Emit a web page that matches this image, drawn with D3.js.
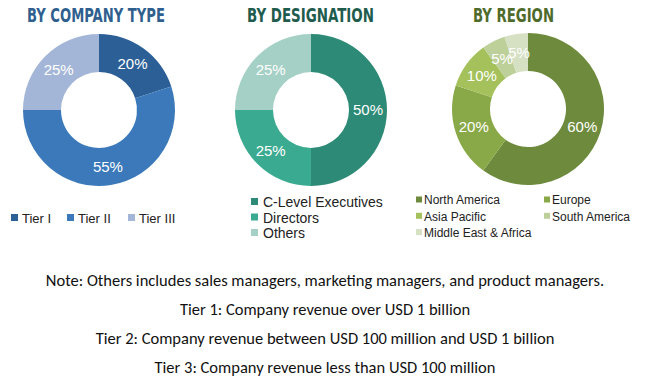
<!DOCTYPE html>
<html lang="en">
<head>
<meta charset="UTF-8">
<title>Breakdown of primaries</title>
<style>
  body { margin: 0; background: #fff; }
</style>
</head>
<body>
<div id="chart"></div>
<script src="https://cdn.jsdelivr.net/npm/d3@7"></script>
<script>
    // Data
    var companyTypes = ["Tier I", "Tier II", "Tier III"];
    var companyShares = [20, 55, 25];
    var designations = ["C-Level Executives", "Directors", "Others"];
    var designationShares = [50, 25, 25];
    var regions = ["North America", "Europe", "Asia Pacific", "South America", "Middle East & Africa"];
    var regionShares = [60, 20, 10, 5, 5];
    var notes = [
        "Note: Others includes sales managers, marketing managers, and product managers.",
        "Tier 1: Company revenue over USD 1 billion",
        "Tier 2: Company revenue between USD 100 million and USD 1 billion",
        "Tier 3: Company revenue less than USD 100 million"
    ];

    var width = 650, height = 384;

    var svg = d3.select("#chart").append("svg")
        .attr("width", width)
        .attr("height", height);

    var titleFont = "'DejaVu Sans Condensed', 'Liberation Sans Narrow', sans-serif";
    var bodyFont = "'Liberation Sans', Arial, sans-serif";

    // one panel per donut
    var panels = [
        {title: "BY COMPANY TYPE", titleColor: "#2f5f8f", titleX: 27, titleW: 138, cx: 99, cy: 110,
         names: companyTypes, values: companyShares,
         colors: ["#2c5f96", "#3b79ba", "#a4b6d7"]},
        {title: "BY DESIGNATION", titleColor: "#1f5c4d", titleX: 247, titleW: 127, cx: 311, cy: 110,
         names: designations, values: designationShares,
         colors: ["#2d8a76", "#3aaa90", "#a5d0c5"]},
        {title: "BY REGION", titleColor: "#4f6b2b", titleX: 473, titleW: 81, cx: 528, cy: 109,
         names: regions, values: regionShares,
         colors: ["#6e8b3d", "#89a948", "#a4c15c", "#bdd09a", "#d6e0c3"]}
    ];

    var outerR = 76, innerR = 38;
    var pie = d3.pie().sort(null).value(d => d);
    var arc = d3.arc().innerRadius(innerR).outerRadius(outerR);
    var labelArc = d3.arc().innerRadius((innerR + outerR) / 2).outerRadius((innerR + outerR) / 2);

    panels.forEach(function(p) {
        var g = svg.append("g").attr("transform", "translate(" + p.cx + "," + p.cy + ")");
        var color = d3.scaleOrdinal().domain(p.names).range(p.colors);
        var arcs = pie(p.values);

        g.selectAll("path.slice")
            .data(arcs)
            .enter().append("path")
            .attr("class", "slice")
            .attr("d", arc)
            .attr("fill", (d, i) => color(p.names[i]));

        // percentage labels at slice centroids (the two 5% labels overlap, as in the original)
        g.selectAll("text.lbl")
            .data(arcs)
            .enter().append("text")
            .attr("class", "lbl")
            .attr("transform", d => "translate(" + labelArc.centroid(d) + ")")
            .attr("text-anchor", "middle")
            .attr("dy", "0.36em")
            .style("font-family", bodyFont)
            .style("font-size", "15px")
            .style("fill", "#fff")
            .text(d => d.data + "%");

        svg.append("text")
            .attr("x", p.titleX)
            .attr("y", 22)
            .attr("textLength", p.titleW)
            .attr("lengthAdjust", "spacingAndGlyphs")
            .style("font-family", titleFont)
            .style("font-weight", "bold")
            .style("font-size", "19px")
            .style("fill", p.titleColor)
            .text(p.title);
    });

    // Legend: company type (single row)
    var leg1 = svg.append("g").selectAll("g")
        .data(companyTypes)
        .enter().append("g")
        .attr("transform", (d, i) => "translate(" + [11, 67, 128][i] + ",218)");
    leg1.append("rect").attr("y", -4).attr("width", 7).attr("height", 7)
        .attr("fill", (d, i) => panels[0].colors[i]);
    leg1.append("text").attr("x", 11).attr("dy", "0.36em")
        .style("font-family", bodyFont).style("font-size", "13px").style("fill", "#222")
        .text(d => d);

    // Legend: designation (column)
    var leg2 = svg.append("g").selectAll("g")
        .data(designations)
        .enter().append("g")
        .attr("transform", (d, i) => "translate(251," + (202 + i * 15.5) + ")");
    leg2.append("rect").attr("y", -4).attr("width", 7).attr("height", 7)
        .attr("fill", (d, i) => panels[1].colors[i]);
    leg2.append("text").attr("x", 12).attr("dy", "0.36em")
        .style("font-family", bodyFont).style("font-size", "14px").style("fill", "#222")
        .text(d => d);

    // Legend: region (two columns)
    var leg3 = svg.append("g").selectAll("g")
        .data(regions)
        .enter().append("g")
        .attr("transform", (d, i) => "translate(" + (i % 2 ? 544 : 416) + "," + (200 + Math.floor(i / 2) * 16.3) + ")");
    leg3.append("rect").attr("y", -3.5).attr("width", 6).attr("height", 6)
        .attr("fill", (d, i) => panels[2].colors[i]);
    leg3.append("text").attr("x", 8).attr("dy", "0.36em")
        .style("font-family", bodyFont).style("font-size", "12px").style("fill", "#222")
        .text(d => d);

    // Notes
    svg.append("g").selectAll("text")
        .data(notes)
        .enter().append("text")
        .attr("x", 325)
        .attr("y", (d, i) => [280, 309, 338, 367][i])
        .attr("dy", "0.36em")
        .attr("text-anchor", "middle")
        .style("font-family", "Carlito, Lato, sans-serif")
        .style("font-size", "16.5px")
        .style("fill", "#111")
        .text(d => d);
</script>
</body>
</html>
